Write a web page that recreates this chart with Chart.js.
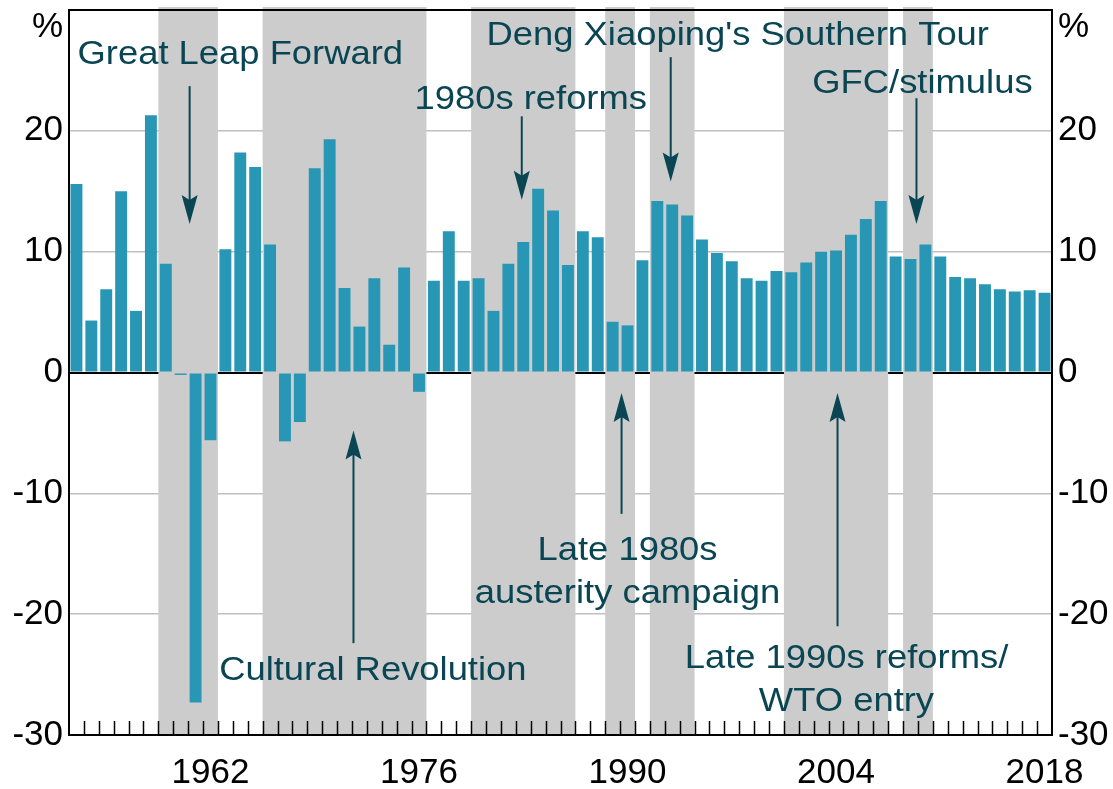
<!DOCTYPE html>
<html>
<head>
<meta charset="utf-8">
<title>China - GDP growth</title>
<script src="https://cdn.jsdelivr.net/npm/chart.js@4.4.1/dist/chart.umd.min.js"></script>
<style>
  body { margin: 0; background: #fff; }
  #wrap { width: 1113px; height: 789px; }
</style>
</head>
<body>
<div id="wrap"><canvas id="gdpChart" width="1113" height="789"></canvas></div>
<script>
// annual real GDP growth, %
const years = [1953, 1954, 1955, 1956, 1957, 1958, 1959, 1960, 1961, 1962,
  1963, 1964, 1965, 1966, 1967, 1968, 1969, 1970, 1971, 1972,
  1973, 1974, 1975, 1976, 1977, 1978, 1979, 1980, 1981, 1982,
  1983, 1984, 1985, 1986, 1987, 1988, 1989, 1990, 1991, 1992,
  1993, 1994, 1995, 1996, 1997, 1998, 1999, 2000, 2001, 2002,
  2003, 2004, 2005, 2006, 2007, 2008, 2009, 2010, 2011, 2012,
  2013, 2014, 2015, 2016, 2017, 2018];
const growth = [15.6, 4.3, 6.9, 15.0, 5.1, 21.3, 9.0, -0.2, -27.3, -5.6,
  10.2, 18.2, 17.0, 10.6, -5.7, -4.1, 16.9, 19.3, 7.0, 3.8,
  7.8, 2.3, 8.7, -1.6, 7.6, 11.7, 7.6, 7.8, 5.1, 9.0,
  10.8, 15.2, 13.4, 8.9, 11.7, 11.2, 4.2, 3.9, 9.3, 14.2,
  13.9, 13.0, 11.0, 9.9, 9.2, 7.8, 7.6, 8.4, 8.3, 9.1,
  10.0, 10.1, 11.4, 12.7, 14.2, 9.6, 9.4, 10.6, 9.6, 7.9,
  7.8, 7.3, 6.9, 6.7, 6.8, 6.6];
const tickYears = [1962, 1976, 1990, 2004, 2018];

// shaded episodes (first and last year, inclusive)
const shadeStart = [1959, 1966, 1980, 1989, 1992, 2001, 2009];
const shadeEnd   = [1962, 1976, 1986, 1990, 1994, 2007, 2010];

// annotations, in data units: text centre (year, %), arrow at year from -> to (%)
const notes = [
  { lines: ['Great Leap Forward'], tx: 1964.0, ty: 26.3, ax: 1960.6, from: 23.7, to: 12.3 },
  { lines: ['Cultural Revolution'], tx: 1972.9, ty: -24.7, ax: 1971.6, from: -22.4, to: -4.8 },
  { lines: ['1980s reforms'], tx: 1983.5, ty: 22.6, ax: 1982.9, from: 21.2, to: 14.3 },
  { lines: ["Deng Xiaoping's Southern Tour"], tx: 1997.4, ty: 27.9, ax: 1992.9, from: 26.1, to: 15.8 },
  { lines: ['GFC/stimulus'], tx: 2009.8, ty: 23.9, ax: 2009.4, from: 22.7, to: 12.3 },
  { lines: ['Late 1980s', 'austerity campaign'], tx: 1990.0, ty: -14.7, ax: 1989.6, from: -11.7, to: -1.7 },
  { lines: ['Late 1990s reforms/', 'WTO entry'], tx: 2004.7, ty: -23.7, ax: 2004.1, from: -21.0, to: -1.7 }
];

const barColour = '#2896b5';
const noteColour = '#0a4553';
const fontFamily = '"Liberation Sans", Arial, sans-serif';
const tickFont = { family: fontFamily, size: 35, lineHeight: 1 };

function yearPx(x, yr) {
  return x.getPixelForValue(yr - years[0]);
}

function arrow(ctx, px, y0, y1) {
  const dir = y1 > y0 ? 1 : -1;
  ctx.beginPath();
  ctx.moveTo(px, y0);
  ctx.lineTo(px, y1 - dir * 20);
  ctx.stroke();
  ctx.beginPath();
  ctx.moveTo(px, y1);
  ctx.lineTo(px - 8, y1 - dir * 29);
  ctx.lineTo(px, y1 - dir * 24);
  ctx.lineTo(px + 8, y1 - dir * 29);
  ctx.closePath();
  ctx.fill();
}

const decor = {
  id: 'decor',
  beforeDatasetsDraw(chart) {
    const { ctx, chartArea: a, scales: { x } } = chart;
    const half = (x.getPixelForValue(1) - x.getPixelForValue(0)) / 2;
    ctx.save();
    ctx.fillStyle = '#cccccc';
    shadeStart.forEach((s, i) => {
      const l = yearPx(x, s) - half;
      const r = yearPx(x, shadeEnd[i]) + half;
      ctx.fillRect(l, a.top - 3, r - l, a.bottom - a.top + 3);
    });
    ctx.restore();
  },
  afterDatasetsDraw(chart) {
    const { ctx, chartArea: a, scales: { x, y } } = chart;
    const half = (x.getPixelForValue(1) - x.getPixelForValue(0)) / 2;
    ctx.save();
    // inward tick marks on the year boundaries
    ctx.strokeStyle = '#000';
    ctx.lineWidth = 1.5;
    ctx.beginPath();
    for (let i = 1; i < years.length; i++) {
      const bx = Math.round(x.getPixelForValue(i) - half) + 0.5;
      ctx.moveTo(bx, a.bottom);
      ctx.lineTo(bx, a.bottom - 14);
    }
    ctx.stroke();
    // frame
    ctx.lineWidth = 2;
    ctx.strokeRect(a.left, a.top, a.right - a.left, a.bottom - a.top);

    // arrows and labels
    ctx.strokeStyle = noteColour;
    ctx.fillStyle = noteColour;
    ctx.lineWidth = 2;
    notes.forEach(n => {
      arrow(ctx, yearPx(x, n.ax), y.getPixelForValue(n.from), y.getPixelForValue(n.to));
    });
    ctx.font = '34px ' + fontFamily;
    ctx.textAlign = 'center';
    ctx.textBaseline = 'middle';
    notes.forEach(n => {
      const cx = yearPx(x, n.tx);
      const cy = y.getPixelForValue(n.ty);
      n.lines.forEach((line, k) => {
        ctx.save();
        ctx.translate(cx, cy + k * 43);
        ctx.scale(1.07, 1);
        ctx.fillText(line, 0, 0);
        ctx.restore();
      });
    });
    ctx.restore();
  }
};

const yTicks = {
  stepSize: 10,
  padding: 6,
  color: '#000',
  font: tickFont,
  callback: v => v === 30 ? ['', '%'] : String(v)
};

new Chart(document.getElementById('gdpChart'), {
  type: 'bar',
  data: {
    labels: years,
    datasets: [{
      data: growth,
      backgroundColor: barColour,
      barPercentage: 0.8,
      categoryPercentage: 1.0
    }]
  },
  options: {
    responsive: false,
    animation: false,
    layout: { padding: { top: 10 } },
    plugins: { legend: { display: false }, tooltip: { enabled: false } },
    scales: {
      x: {
        offset: true,
        grid: { display: false },
        border: { display: false },
        ticks: {
          autoSkip: false,
          maxRotation: 0,
          padding: 13,
          color: '#000',
          font: tickFont,
          callback: (v, i) => tickYears.includes(years[i]) ? String(years[i]) : ''
        },
        afterFit: s => { s.height = 54; s.paddingLeft = 0; s.paddingRight = 0; }
      },
      y: {
        position: 'left',
        min: -30,
        max: 30,
        ticks: yTicks,
        border: { display: false },
        grid: {
          drawTicks: false,
          color: c => c.tick.value === 0 ? '#000' : (Math.abs(c.tick.value) === 30 ? 'rgba(0,0,0,0)' : '#c0c0c0'),
          lineWidth: c => c.tick.value === 0 ? 2 : 1.5
        },
        afterFit: s => { s.width = 69; s.paddingTop = 0; s.paddingBottom = 0; }
      },
      y2: {
        position: 'right',
        min: -30,
        max: 30,
        ticks: yTicks,
        border: { display: false },
        grid: { display: false, drawTicks: false },
        afterFit: s => { s.width = 61; s.paddingTop = 0; s.paddingBottom = 0; }
      }
    }
  },
  plugins: [decor]
});
</script>
</body>
</html>
